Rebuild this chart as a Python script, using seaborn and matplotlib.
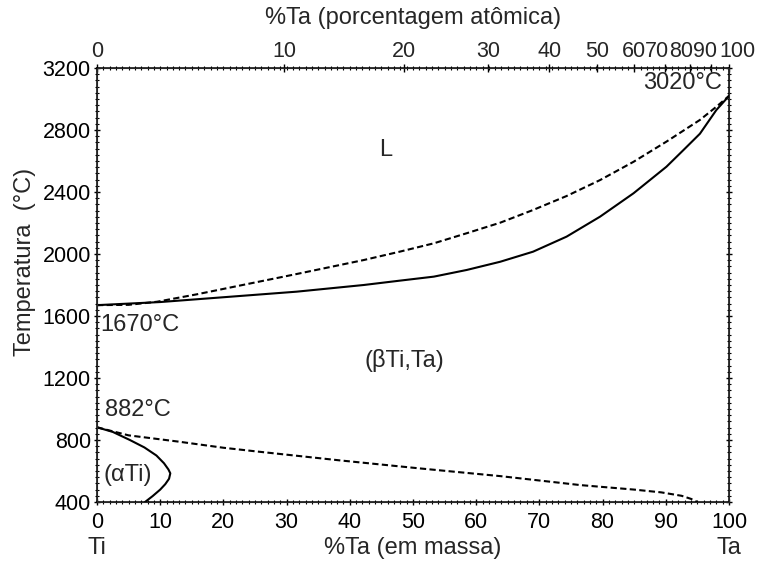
import numpy as np
import pandas as pd
import seaborn as sns
import matplotlib
matplotlib.use("Agg")
import matplotlib.pyplot as plt
from matplotlib.ticker import MultipleLocator, FixedLocator, NullFormatter
from matplotlib.transforms import offset_copy

# Ti-Ta phase diagram: composition in wt.% Ta, temperature in degC
liquidus_wt = [0, 5, 9.5, 15.8, 31.6, 42.2, 47.9, 53.3, 58.5, 63.8, 69.0, 74.3,
               79.6, 84.9, 90.1, 95.4, 98.0, 100]
liquidus_T = [1670, 1672, 1692, 1740, 1871, 1961, 2015, 2069, 2134, 2202, 2284, 2374,
              2477, 2595, 2725, 2865, 2950, 3020]

solidus_wt = [0, 10, 15.8, 31.6, 42.2, 47.9, 53.3, 58.5, 63.8, 69.0, 74.3, 79.6,
              84.9, 90.1, 92.8, 95.4, 98.0, 100]
solidus_T = [1670, 1690, 1708, 1757, 1800, 1828, 1854, 1897, 1950, 2015, 2112, 2241,
             2392, 2563, 2671, 2776, 2929, 3020]

transus_wt = [0, 5, 12.8, 20, 25.5, 38.3, 51.0, 63.8, 76.5, 85, 89.3, 92.5, 94, 95]
transus_T = [882, 830, 790, 750, 725, 669, 617, 567, 509, 480, 462, 440, 420, 400]

alpha_wt = [0, 2.5, 5.2, 7.5, 9.4, 10.6, 11.3, 11.6, 11.4, 10.8, 10.0, 8.8, 7.6]
alpha_T = [882, 852, 800, 752, 700, 650, 610, 585, 550, 515, 480, 438, 400]

# top axis: atomic percent Ta
at_labels = [0, 10, 20, 30, 40, 50, 60, 70, 80, 90, 100]
M_TA, M_TI = 180.95, 47.87

sns.set_style("ticks")
plt.rcParams["font.family"] = ["Liberation Sans", "DejaVu Sans"]

TICK_FS = 15.5
LABEL_FS = 17

fig = plt.figure(figsize=(7.58, 5.72), dpi=100)
ax = fig.add_axes([97 / 758, 1 - 502 / 572, (729 - 97) / 758, (502 - 68) / 572])

lw = 1.5
dash = (3, 1.6)
curves = [
    (liquidus_wt, liquidus_T, True),
    (solidus_wt, solidus_T, False),
    (transus_wt, transus_T, True),
    (alpha_wt, alpha_T, False),
]
for xs, ys, dashed in curves:
    df = pd.DataFrame({"wt": xs, "T": ys})
    line = sns.lineplot(data=df, x="wt", y="T", sort=False, estimator=None,
                        color="black", lw=lw, ax=ax)
    if dashed:
        line.lines[-1].set_dashes(dash)

ax.set_xlim(0, 100)
ax.set_ylim(400, 3200)
ax.set_xlabel("")
ax.set_ylabel("")
ax.xaxis.set_major_locator(MultipleLocator(10))
ax.xaxis.set_minor_locator(MultipleLocator(1))
ax.yaxis.set_major_locator(MultipleLocator(400))
ax.yaxis.set_minor_locator(MultipleLocator(40))
ax.tick_params(which="both", direction="inout", right=True, labelsize=TICK_FS, colors="black")
ax.tick_params(which="major", length=5, width=1)
ax.tick_params(which="minor", length=3, width=0.8)
ax.tick_params(axis="x", pad=5)
ax.tick_params(axis="y", pad=2)
for s in ax.spines.values():
    s.set_visible(True)
    s.set_color("black")
    s.set_linewidth(1.1)

# top axis positions in wt.% for the atomic-percent labels
at = np.array(at_labels, dtype=float)
wt_pos = 100 * at * M_TA / (at * M_TA + (100 - at) * M_TI)
ax2 = ax.twiny()
ax2.set_xlim(0, 100)
ax2.xaxis.set_major_locator(FixedLocator(wt_pos))
ax2.xaxis.set_major_formatter(NullFormatter())
ax2.xaxis.set_minor_locator(MultipleLocator(1))
ax2.tick_params(which="both", direction="inout", colors="black")
ax2.tick_params(which="major", length=6, width=1)
ax2.tick_params(which="minor", length=3, width=0.8)

# atomic-percent labels, nudged apart where they crowd near pure Ta
nudge_px = {70: -8, 80: -9, 90: -6, 100: 8}
top_trans = ax2.get_xaxis_transform()
for pos, lab in zip(wt_pos, at_labels):
    tr = offset_copy(top_trans, fig=fig, x=nudge_px.get(lab, 0), y=0, units="dots")
    ax2.text(pos, 1.0, str(lab), transform=tr, ha="center", va="bottom",
             fontsize=TICK_FS)
    ax2.texts[-1].set_y(1.0 + 6 / 434)

fig.text(413 / 758, 1 - 18 / 572, "%Ta (porcentagem atômica)", ha="center",
         va="center", fontsize=LABEL_FS)

# labels
xt = ax.get_xaxis_transform()
ax.text(50, -0.106, "%Ta (em massa)", transform=xt, ha="center", va="center",
        fontsize=LABEL_FS)
ax.text(0, -0.106, "Ti", transform=xt, ha="center", va="center", fontsize=LABEL_FS)
ax.text(100, -0.106, "Ta", transform=xt, ha="center", va="center", fontsize=LABEL_FS)
fig.text(25 / 758, 1 - 262 / 572, "Temperatura  (°C)", rotation=90,
         ha="center", va="center", fontsize=LABEL_FS)

ax.text(45.6, 2671, "L", ha="center", va="center", fontsize=LABEL_FS)
ax.text(48.7, 1316, "(βTi,Ta)", ha="center", va="center", fontsize=LABEL_FS)
ax.text(4.9, 574, "(αTi)", ha="center", va="center", fontsize=LABEL_FS)
ax.text(1.3, 993, "882°C", ha="left", va="center", fontsize=LABEL_FS)
ax.text(0.5, 1542, "1670°C", ha="left", va="center", fontsize=LABEL_FS)
ax.text(98.9, 3103, "3020°C", ha="right", va="center", fontsize=LABEL_FS)

fig.savefig("out.png", dpi=100)
